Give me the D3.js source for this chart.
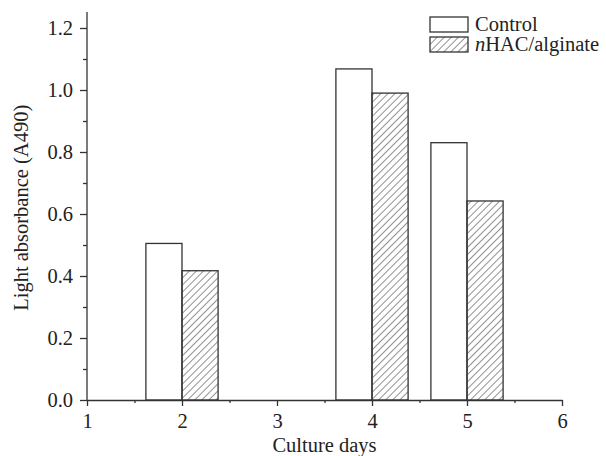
<!DOCTYPE html>
<html><head><meta charset="utf-8">
<script src="https://cdn.jsdelivr.net/npm/d3@7"></script>
<style>body{margin:0;background:#fff}</style>
</head><body>
<script>
const days = [2, 4, 5];
const control = [0.505, 1.068, 0.830];
const nhac = [0.417, 0.990, 0.642];
const seriesNames = ["Control", "nHAC/alginate"];
const xTicks = [1, 2, 3, 4, 5, 6];
const yTicks = [0.0, 0.2, 0.4, 0.6, 0.8, 1.0, 1.2];

const W = 606, H = 456;
const FS = 20.5;
const svg = d3.select("body").append("svg").attr("width", W).attr("height", H)
  .style("font-family", "'Liberation Serif', 'Times New Roman', serif");
const defs = svg.append("defs");
const pat = defs.append("pattern").attr("id", "hatch").attr("patternUnits", "userSpaceOnUse")
  .attr("width", 5).attr("height", 5).attr("patternTransform", "rotate(45)");
pat.append("line").attr("x1", 0).attr("y1", 0).attr("x2", 0).attr("y2", 5)
  .attr("stroke", "#555").attr("stroke-width", 1.3);

const x = d3.scaleLinear().domain([1, 6]).range([87, 562]);
const y = d3.scaleLinear().domain([0, 1.2]).range([400, 28]);
const bw = 0.38;
const axisColor = "#333";

// bars
const g = svg.append("g");
days.forEach((d, i) => {
  g.append("rect").attr("x", x(d - bw)).attr("y", y(control[i]))
    .attr("width", x(d) - x(d - bw)).attr("height", y(0) - y(control[i]))
    .attr("fill", "#fff").attr("stroke", axisColor).attr("stroke-width", 1.3);
  g.append("rect").attr("x", x(d)).attr("y", y(nhac[i]))
    .attr("width", x(d + bw) - x(d)).attr("height", y(0) - y(nhac[i]))
    .attr("fill", "url(#hatch)").attr("stroke", axisColor).attr("stroke-width", 1.3);
});

// y axis
const yAxis = svg.append("g").attr("transform", `translate(${x(1)},0)`)
  .call(d3.axisLeft(y).tickValues(yTicks).tickFormat(d3.format(".1f")).tickSize(7).tickSizeOuter(0));
const yMinor = svg.append("g").attr("transform", `translate(${x(1)},0)`)
  .call(d3.axisLeft(y).tickValues(d3.range(0.1, 1.2, 0.2)).tickFormat("").tickSize(4).tickSizeOuter(0));
yMinor.select(".domain").remove();
yAxis.select(".domain").attr("d", `M0,${y(0)}V12`);

// x axis
const xAxis = svg.append("g").attr("transform", `translate(0,${y(0)})`)
  .call(d3.axisBottom(x).tickValues(xTicks).tickFormat(d3.format("d")).tickSize(6).tickSizeOuter(0));
const xMinor = svg.append("g").attr("transform", `translate(0,${y(0)})`)
  .call(d3.axisBottom(x).tickValues(d3.range(1.5, 6, 1)).tickFormat("").tickSize(3).tickSizeOuter(0));
xMinor.select(".domain").remove();

svg.selectAll(".domain, .tick line").attr("stroke", axisColor).attr("stroke-width", 1.3);
yAxis.selectAll("text").attr("font-size", FS).attr("fill", "#222").attr("x", -14).attr("dy", "0.34em").attr("font-family", "'Liberation Serif', serif");
xAxis.selectAll("text").attr("font-size", FS).attr("fill", "#222").attr("y", 13).attr("font-family", "'Liberation Serif', serif");

// axis titles
svg.append("text").attr("x", x(3.5)).attr("y", 452).attr("text-anchor", "middle")
  .attr("font-size", FS).attr("fill", "#222").text("Culture days");
svg.append("text").attr("transform", `translate(28,${y(0.62)}) rotate(-90)`).attr("text-anchor", "middle")
  .attr("font-size", FS).attr("fill", "#222").text("Light absorbance (A490)");

// legend
const leg = svg.append("g");
const fills = ["#fff", "url(#hatch)"];
seriesNames.forEach((n, i) => {
  const ly = 17 + i * 20;
  leg.append("rect").attr("x", 430).attr("y", ly).attr("width", 38).attr("height", 15)
    .attr("fill", fills[i]).attr("stroke", axisColor).attr("stroke-width", 1.3);
  const t = leg.append("text").attr("x", 475).attr("y", ly + 14).attr("font-size", FS).attr("fill", "#222");
  if (i === 1) {
    t.append("tspan").attr("font-style", "italic").text("n");
    t.append("tspan").text("HAC/alginate");
  } else t.text(n);
});
</script>
</body></html>
